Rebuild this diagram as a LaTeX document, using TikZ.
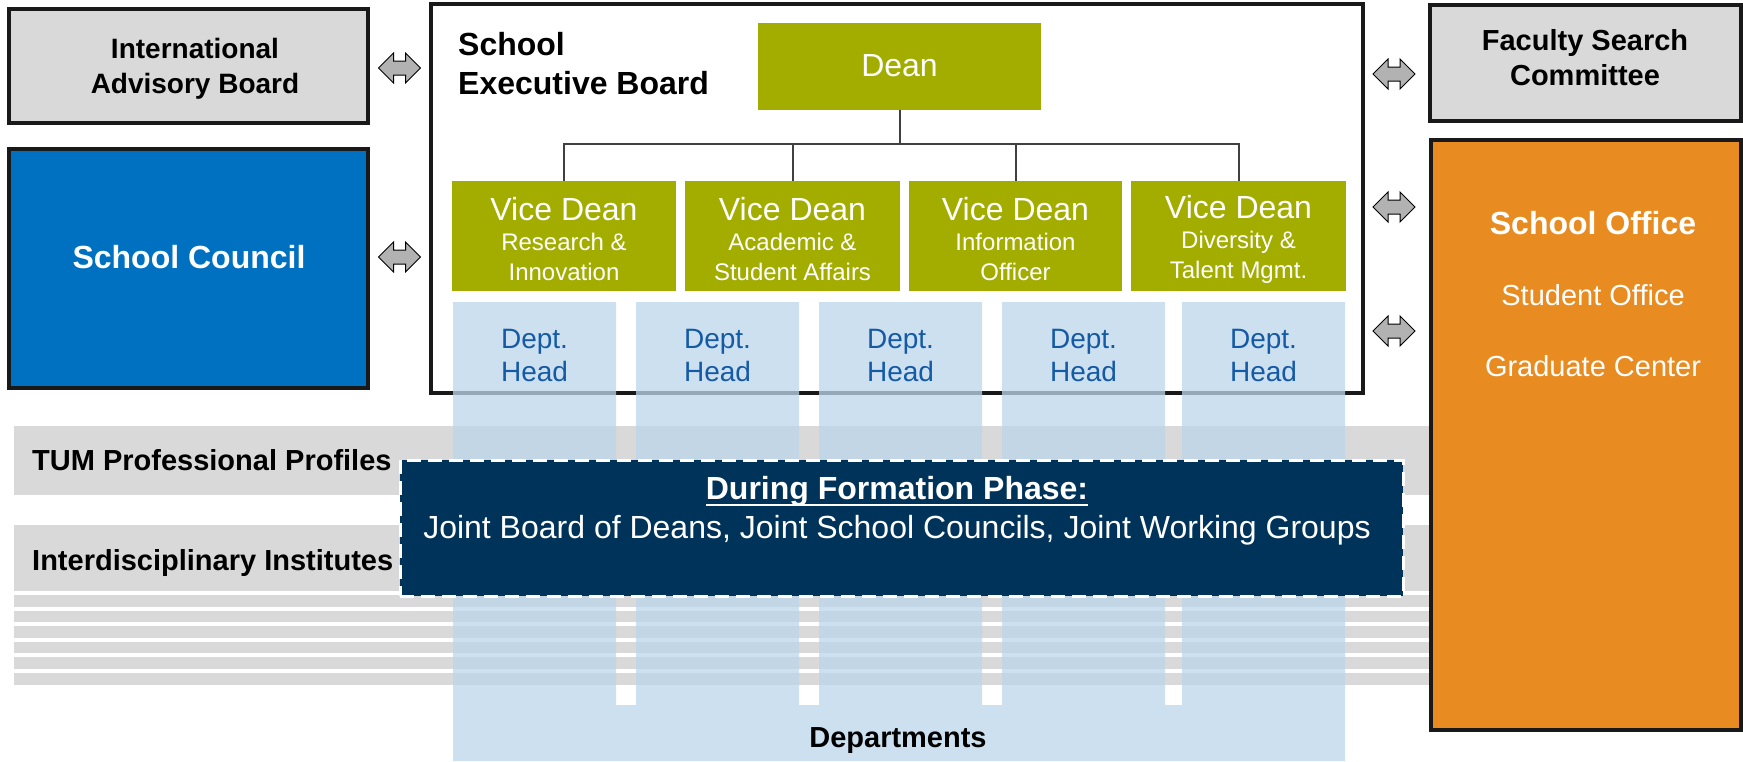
\documentclass[tikz,border=0pt]{standalone}
\usepackage{fontspec}
\setmainfont{Liberation Sans}
\usetikzlibrary{calc}
\definecolor{tumgreen}{RGB}{162,173,0}
\definecolor{tumblue}{RGB}{0,112,192}
\definecolor{tumnavy}{RGB}{0,51,89}
\definecolor{tumorange}{RGB}{232,139,32}
\definecolor{boxgray}{RGB}{217,217,217}
\definecolor{deptblue}{RGB}{188,214,235}
\definecolor{headblue}{RGB}{20,90,165}
\colorlet{arrgray}{black!30}

\begin{document}
\begin{tikzpicture}[x=1pt,y=-1pt,
    box/.style={draw=black!90,line width=3.5},
    greenbox/.style={fill=tumgreen,text=white,inner sep=0pt,align=center},
    tree/.style={draw=black!75,line width=2},
    lbl/.style={inner sep=0pt,align=center},
    dblarrow/.pic={\filldraw[fill=arrgray,draw=black,line width=1]
        (-21,0) -- (-6,-15) -- (-6,-7) -- (6,-7) -- (6,-15) -- (21,0)
        -- (6,15) -- (6,7) -- (-6,7) -- (-6,15) -- cycle;}]

    \def\fsz#1#2{\fontsize{#1}{#2}\selectfont}
    \def\vd#1#2{{\fsz{32}{30}\rule{0pt}{29pt}Vice Dean}\\#1\\#2}
    \def\ulbl#1{\setbox0\hbox{#1}\rlap{\rule[-6pt]{\wd0}{2pt}}\box0}

    \useasboundingbox (0,0) rectangle (1743,761);

    % BANDS
    \fill[boxgray] (14,426) rectangle (1430,495);
    \fill[boxgray] (14,525) rectangle (1430,591);
    \foreach \i in {0,...,5}
        \fill[boxgray] (14,595+15.6*\i) rectangle ++(1416,11.5);
    \node[lbl,anchor=base west,font=\bfseries\fsz{29}{34}] (tpp) at (32,470) {TUM Professional Profiles};
    \node[lbl,anchor=base west,font=\bfseries\fsz{29}{34}] (idi) at (32,570) {Interdisciplinary Institutes};

    % EXECUTIVE BOARD
    \draw[line width=4,black!90] (431,4) rectangle (1363,393);
    \node[lbl,align=left,anchor=north west,font=\bfseries\fsz{32}{39}] (seb) at (458,32) {School\\Executive Board};

    \node[greenbox,minimum width=283,minimum height=87,font=\fsz{32}{38}] (dean) at (899.5,66) {Dean};
    \node[greenbox,minimum width=224,minimum height=110,font=\fsz{24}{30}] (vd1) at (564,236) {\vd{Research \&}{Innovation}};
    \node[greenbox,minimum width=215,minimum height=110,font=\fsz{24}{30}] (vd2) at (792.5,236) {\vd{Academic \&}{Student Affairs}};
    \node[greenbox,minimum width=213,minimum height=110,font=\fsz{24}{30}] (vd3) at (1015.5,236) {\vd{Information}{Officer}};
    \node[greenbox,minimum width=215,minimum height=110,font=\fsz{24}{30}] (vd4) at (1238.5,236) {\vd{Diversity \&}{Talent Mgmt.}};

    \foreach \i in {1,...,4}
        \draw[tree] (dean.south) -- ++(0,34.5) -| (vd\i.north);

    % DEPARTMENTS
    \fill[deptblue,opacity=0.76]
        foreach \x in {453,636,819,1002,1182} {(\x,302) rectangle ++(163,459)}
        (453,705) rectangle (1345,761);
    \foreach \x [count=\i] in {534.5,717.5,900.5,1083.5,1263.5}
        \node[lbl,text=headblue,font=\fsz{28}{33}] (head\i) at (\x,355.5) {Dept.\\Head};
    \node[lbl,anchor=base,font=\bfseries\fsz{29}{34}] (depts) at (898,747) {Departments};

    % FORMATION PHASE
    \node[fill=tumnavy,draw=white,line width=3,dash pattern=on 14pt off 7pt,
        minimum width=1003,minimum height=136,inner sep=0pt] (form) at (901.5,528) {};
    \node[lbl,text=white,font=\fsz{32}{39}] (formtxt) at (897,511)
        {{\bfseries\ulbl{During Formation Phase:}}\\Joint Board of Deans, Joint School Councils, Joint Working Groups};

    % LEFT SIDE
    \filldraw[box,fill=boxgray] (9,9) rectangle (368,123);
    \node[lbl,font=\bfseries\fsz{28}{35}] (iab) at (195,68.5) {International\\Advisory Board};
    \filldraw[box,fill=tumblue] (9,149) rectangle (368,388);
    \node[lbl,anchor=base,text=white,font=\bfseries\fsz{32}{38}] (council) at (189,268.5) {School Council};

    % RIGHT SIDE
    \filldraw[box,fill=boxgray] (1430,5) rectangle (1741,121);
    \node[lbl,font=\bfseries\fsz{29}{35}] (fsc) at (1585,57.5) {Faculty Search\\Committee};
    \filldraw[box,fill=tumorange] (1431,140) rectangle (1741,730);
    \node[lbl,text=white,font=\fsz{29}{71}] (office) at (1593,294)
        {{\bfseries\fsz{32}{71}School Office}\\Student Office\\Graduate Center};

    % ARROWS
    \pic at (399.5,68) {dblarrow};
    \pic at (399.5,257) {dblarrow};
    \pic at (1394,74) {dblarrow};
    \pic at (1394,207) {dblarrow};
    \pic at (1394,331) {dblarrow};

\end{tikzpicture}
\end{document}
